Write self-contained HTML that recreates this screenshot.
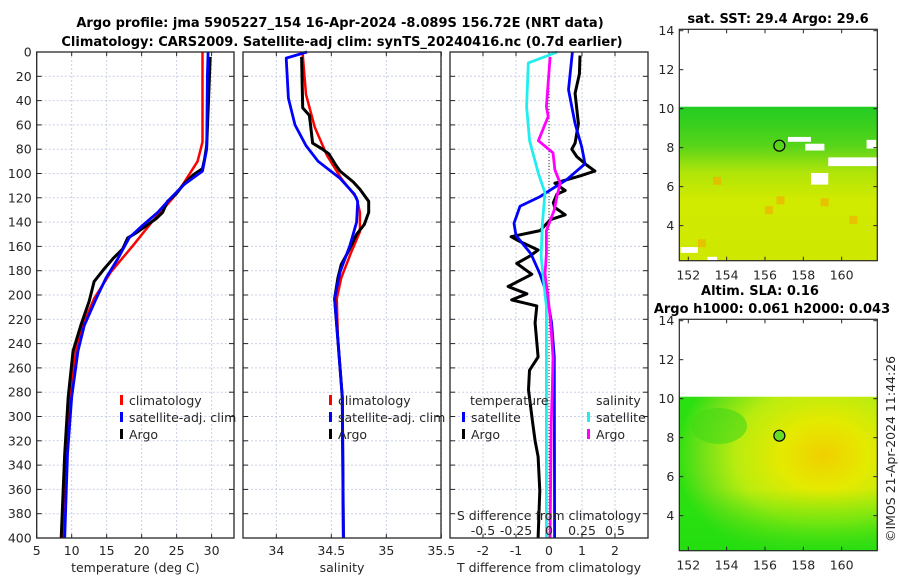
<!DOCTYPE html>
<html><head><meta charset="utf-8">
<style>
html,body{margin:0;padding:0;background:#fff;}
svg{display:block;font-family:"DejaVu Sans","Liberation Sans",sans-serif;}
.t{font-size:12.5px;fill:#262626;}
.b{font-size:13px;font-weight:bold;fill:#000;}
</style></head>
<body>
<svg id="fig" width="900" height="580" viewBox="0 0 900 580">
<defs>
 <linearGradient id="sstg" x1="0" y1="0" x2="0" y2="1">
  <stop offset="0" stop-color="#22cc22"/><stop offset="0.25" stop-color="#55d41a"/>
  <stop offset="0.42" stop-color="#aee40a"/><stop offset="0.6" stop-color="#d0ea00"/>
  <stop offset="1" stop-color="#cfe800"/>
 </linearGradient>
 <radialGradient id="slag" cx="0.73" cy="0.38" r="0.75">
  <stop offset="0" stop-color="#f0d000"/><stop offset="0.3" stop-color="#e4ea00"/>
  <stop offset="0.6" stop-color="#b8ec10"/><stop offset="0.85" stop-color="#66e018"/>
  <stop offset="1" stop-color="#2ae010"/>
 </radialGradient>
 <linearGradient id="slab" x1="0" y1="0" x2="0" y2="1">
  <stop offset="0" stop-color="#2ae010" stop-opacity="0"/><stop offset="0.6" stop-color="#2ae010" stop-opacity="0"/>
  <stop offset="1" stop-color="#22dd10" stop-opacity="0.9"/>
 </linearGradient>
</defs>
<g id="plots"></g>
<text class="b" x="340" y="27" text-anchor="middle">Argo profile: jma 5905227_154 16-Apr-2024 -8.089S 156.72E (NRT data)</text>
<text class="b" x="342" y="46" text-anchor="middle">Climatology: CARS2009. Satellite-adj clim: synTS_20240416.nc (0.7d earlier)</text>
<text class="b" x="778" y="23" text-anchor="middle">sat. SST: 29.4 Argo: 29.6</text>
<text class="b" x="760" y="295" text-anchor="middle">Altim. SLA: 0.16</text>
<text class="b" x="772" y="313" text-anchor="middle">Argo h1000: 0.061 h2000: 0.043</text>
<text class="t" transform="translate(895,542) rotate(-90)">©IMOS 21-Apr-2024 11:44:26</text>
</svg>
<script>
// ---- data (depth in m) ----
const tClimDepth=[0,74,90,109,120,139,159,181,203,222,246,284,331,400];
const tClimVal=[28.7,28.7,28.0,25.9,24.5,21.6,18.8,15.6,13.2,11.8,10.6,9.8,9.2,8.8];
const tSatDepth=[0,19,80,98,109,120,132,143,153,170,186,203,225,246,284,331,400];
const tSatVal=[29.5,29.4,29.3,28.7,26.1,24.2,22.3,20.1,18.2,16.6,14.9,13.5,11.8,10.9,10.0,9.4,9.0];
const tArgoDepth=[4,77,88,96,101,109,117,123,132,137,149,153,162,170,178,189,205,225,246,284,331,400];
const tArgoVal=[29.8,29.3,29.0,28.7,27.4,26.0,24.9,23.7,23.0,22.1,19.2,18.0,17.3,15.9,14.7,13.2,12.5,11.3,10.2,9.5,9.0,8.5];
const sClimDepth=[2,35,62,85,104,120,132,148,165,186,203,237,284,400];
const sClimVal=[34.24,34.27,34.35,34.46,34.59,34.73,34.76,34.76,34.68,34.59,34.55,34.56,34.6,34.61];
const sSatDepth=[0,5,38,60,77,90,104,117,123,140,159,181,203,237,284,400];
const sSatVal=[34.28,34.09,34.11,34.17,34.27,34.38,34.58,34.71,34.74,34.73,34.67,34.58,34.53,34.56,34.6,34.61];
const sArgoDepth=[4,46,52,59,75,80,84,93,98,107,113,123,132,142,150,165,175,186,203,237,284,400];
const sArgoVal=[34.23,34.24,34.30,34.31,34.33,34.42,34.48,34.54,34.58,34.70,34.76,34.84,34.84,34.80,34.73,34.65,34.59,34.56,34.53,34.56,34.6,34.61];
const dtSatDepth=[0,31,59,78,92,105,119,127,141,151,166,183,199,223,251,400];
const dtSatVal=[0.71,0.59,0.79,0.99,1.09,0.54,-0.27,-0.88,-1.06,-1.0,-0.55,-0.27,-0.07,0.08,0.16,0.17];
const dtArgoDepth=[3,18,34,59,75,80,86,93,98,102,108,114,117,124,128,134,138,147,152,156,163,168,174,183,193,199,204,209,223,251,262,278,306,320,333,361,400];
const dtArgoVal=[0.94,0.92,0.79,0.89,0.79,0.69,0.84,1.14,1.39,0.94,0.18,0.49,0.24,0.13,0.18,0.49,0.04,-0.27,-1.15,-0.88,-0.33,-0.58,-0.98,-0.52,-1.24,-0.67,-1.13,-0.37,-0.42,-0.33,-0.59,-0.62,-0.49,-0.42,-0.33,-0.28,-0.33];
const dsSatDepth=[0,9,45,73,100,116,141,168,199,209,278,400];
const dsSatVal=[0.063,-0.157,-0.17,-0.147,-0.08,-0.03,-0.05,-0.06,-0.03,-0.02,-0.02,-0.02];
const dsArgoDepth=[4,45,53,73,83,97,108,119,130,147,166,183,199,223,251,278,306,400];
const dsArgoVal=[0.008,-0.02,-0.006,-0.08,0.03,0.045,0.085,0.06,0.04,-0.02,-0.02,-0.03,-0.01,0.013,0.03,0.025,0.017,0.008];
const depthTicks=[0,20,40,60,80,100,120,140,160,180,200,220,240,260,280,300,320,340,360,380,400];
const tTicks=[5,10,15,20,25,30];
const sTicks=[34,34.5,35,35.5];
const dTicks=[-2,-1,0,1,2];
const dsTickLabels=["-0.5","-0.25","0","0.25","0.5"];
const dsTicks=[-0.5,-0.25,0,0.25,0.5];
const latTicks=[4,6,8,10,12,14];
const lonTicks=[152,154,156,158,160];

const NS='http://www.w3.org/2000/svg';
const root=document.getElementById('plots');
function mk(tag,attrs,parent){const e=document.createElementNS(NS,tag);for(const k in attrs)e.setAttribute(k,attrs[k]);(parent||root).appendChild(e);return e;}
const Y0=52,Y1=538;
const yS=d=>Y0+d*(Y1-Y0)/400;

function panel(name,x0,x1,dmin,dmax,ticks,labels,showY,title){
 const g=mk('g',{});
 
 
 const xs=v=>x0+(v-dmin)/(dmax-dmin)*(x1-x0);
 ticks.forEach((t,i)=>{
  const X=xs(t);
  mk('line',{x1:X,x2:X,y1:Y0,y2:Y1,stroke:'#c9d0e6','stroke-width':1,'stroke-dasharray':'2,2'},g);
  mk('line',{x1:X,x2:X,y1:Y0,y2:Y0+4,stroke:'#262626'},g);
  mk('line',{x1:X,x2:X,y1:Y1,y2:Y1-4,stroke:'#262626'},g);
  const tx=mk('text',{x:X,y:Y1+17,'text-anchor':'middle',class:'t'},g);
  tx.textContent=labels[i];
 });
 depthTicks.forEach(d=>{
  const Y=yS(d);
  mk('line',{x1:x0,x2:x1,y1:Y,y2:Y,stroke:'#c9d0e6','stroke-width':1,'stroke-dasharray':'2,2'},g);
  mk('line',{x1:x0,x2:x0+5,y1:Y,y2:Y,stroke:'#262626'},g);
  mk('line',{x1:x1,x2:x1-5,y1:Y,y2:Y,stroke:'#262626'},g);
  if(showY){const tx=mk('text',{x:x0-5,y:Y+4.5,'text-anchor':'end',class:'t'},g);tx.textContent=d;}
 });
 const tt=mk('text',{x:(x0+x1)/2,y:572,'text-anchor':'middle',class:'t'},g);
 tt.textContent=title;
 return {g,xs,x0,x1};
}
function line(p,depths,vals,color,w,name){
 const pts=depths.map((d,i)=>p.xs(vals[i]).toFixed(1)+','+yS(d).toFixed(1)).join(' ');
 const e=mk('polyline',{points:pts,fill:'none',stroke:color,'stroke-width':w,'stroke-linejoin':'round'},p.g);
 
 
}
function frame(p){mk('rect',{x:p.x0,y:Y0,width:p.x1-p.x0,height:Y1-Y0,fill:'none',stroke:'#262626','stroke-width':1.3},p.g);}
function legend(p,x,y,color,label,name){
 const g=mk('g',{},p.g);
 
 
 mk('rect',{x:x,y:y-10,width:3,height:10,fill:color},g);
 const t=mk('text',{x:x+9,y:y,class:'t'},g);t.textContent=label;
}

// Panel 1
const p1=panel('temperature-panel',36.7,234,5,33.2,tTicks,tTicks.map(String),true,'temperature (deg C)');
line(p1,tClimDepth,tClimVal,'#ff0000',2.5,'temp-climatology-line');
line(p1,tArgoDepth,tArgoVal,'#000000',3,'temp-argo-line');
line(p1,tSatDepth,tSatVal,'#0000ff',2.8,'temp-satellite-line');
frame(p1);
legend(p1,120,405,'#ff0000','climatology','legend-climatology');
legend(p1,120,422,'#0000ff','satellite-adj. clim','legend-satellite');
legend(p1,120,439,'#000000','Argo','legend-argo');

// Panel 2
const p2=panel('salinity-panel',243,441,33.697,35.497,sTicks,sTicks.map(String),false,'salinity');
line(p2,sClimDepth,sClimVal,'#ff0000',2.5,'sal-climatology-line');
line(p2,sArgoDepth,sArgoVal,'#000000',3,'sal-argo-line');
line(p2,sSatDepth,sSatVal,'#0000ff',2.8,'sal-satellite-line');
frame(p2);
legend(p2,329,405,'#ff0000','climatology','legend-climatology-2');
legend(p2,329,422,'#0000ff','satellite-adj. clim','legend-satellite-2');
legend(p2,329,439,'#000000','Argo','legend-argo-2');

// Panel 3
const p3=panel('difference-panel',450,648,-3,3,dTicks,dTicks.map(String),false,'T difference from climatology');
mk('line',{x1:p3.xs(0),x2:p3.xs(0),y1:Y0,y2:Y1,stroke:'#333','stroke-width':1,'stroke-dasharray':'1,2'},p3.g);
const dsScale=v=>v*4;
line(p3,dtArgoDepth,dtArgoVal,'#000000',3,'dT-argo-line');
line(p3,dtSatDepth,dtSatVal,'#0000ff',2.8,'dT-satellite-line');
line(p3,dsSatDepth,dsSatVal.map(dsScale),'#22eeee',2.8,'dS-satellite-line');
line(p3,dsArgoDepth,dsArgoVal.map(dsScale),'#ff00ff',2.8,'dS-argo-line');
frame(p3);
const sl=mk('text',{x:p3.xs(0),y:520,'text-anchor':'middle',class:'t'},p3.g);sl.textContent='S difference from climatology';
dsTicks.forEach((v,i)=>{const t=mk('text',{x:p3.xs(dsScale(v)),y:535,'text-anchor':'middle',class:'t'},p3.g);t.textContent=dsTickLabels[i];});
const lt=mk('text',{x:470,y:405,class:'t'},p3.g);lt.textContent='temperature';
const ls=mk('text',{x:596,y:405,class:'t'},p3.g);ls.textContent='salinity';
legend(p3,462,422,'#0000ff','satellite','legend-dT-satellite');
legend(p3,462,439,'#000000','Argo','legend-dT-argo');
legend(p3,587,422,'#22eeee','satellite','legend-dS-satellite');
legend(p3,587,439,'#ff00ff','Argo','legend-dS-argo');

// Maps
function map(name,top,bot,fill,kind){
 const g=mk('g',{});
 
 
 const L=679.3,R=877.3;
 const lonS=v=>688.3+(v-152)*19.17;
 const latS=v=>top+1.4+(14-v)*(bot-top-1.4)/11.8;
 const y10=latS(10.1);
 mk('rect',{x:L,y:y10,width:R-L,height:bot-y10,fill:fill},g);
 if(kind==='sst'){
  [[157.2,8.55,1.2,0.25],[158.1,8.2,1.0,0.35],[159.3,7.5,2.6,0.45],[158.4,6.7,0.9,0.6],[161.3,8.4,0.5,0.45],[151.6,2.9,0.9,0.3],[153.0,2.4,0.5,0.2]].forEach(h=>{
   mk('rect',{x:lonS(h[0]),y:latS(h[1]),width:h[2]*19.17,height:h[3]*19.36,fill:'#fff'},g);
  });
  [[156.0,5.0],[153.3,6.5],[158.9,5.4],[160.4,4.5],[152.5,3.3],[156.6,5.5]].forEach(c=>{
   mk('rect',{x:lonS(c[0]),y:latS(c[1]),width:8,height:8,fill:'#f0b000',opacity:0.7},g);
  });
 } else {
  mk('rect',{x:L,y:y10,width:R-L,height:bot-y10,fill:'url(#slab)'},g);
  mk('ellipse',{cx:lonS(153.6),cy:latS(8.6),rx:28,ry:18,fill:'#44d818',opacity:0.6},g);
 }
 mk('circle',{cx:lonS(156.75),cy:latS(8.1),r:5.5,fill:kind==='sla'?'#66dd22':'none',stroke:'#000','stroke-width':1.2},g);
 mk('rect',{x:L,y:top,width:R-L,height:bot-top,fill:'none',stroke:'#262626','stroke-width':1.2},g);
 latTicks.forEach(v=>{const Y=latS(v);
  mk('line',{x1:L,x2:L+4,y1:Y,y2:Y,stroke:'#262626'},g);
  mk('line',{x1:R,x2:R-4,y1:Y,y2:Y,stroke:'#262626'},g);
  const t=mk('text',{x:L-5,y:Y+4.5,'text-anchor':'end',class:'t'},g);t.textContent=v;});
 lonTicks.forEach(v=>{const X=lonS(v);
  mk('line',{x1:X,x2:X,y1:bot,y2:bot-4,stroke:'#262626'},g);
  mk('line',{x1:X,x2:X,y1:top,y2:top+4,stroke:'#262626'},g);
  const t=mk('text',{x:X,y:bot+19,'text-anchor':'middle',class:'t'},g);t.textContent=v;});
}
map('sst-map',29.3,260.7,'url(#sstg)','sst');
map('sla-map',319.3,550.7,'url(#slag)','sla');
</script>
</body></html>
